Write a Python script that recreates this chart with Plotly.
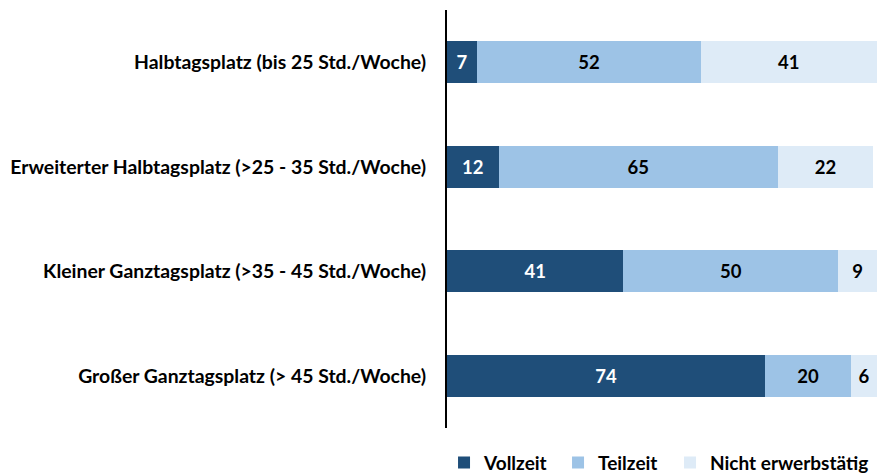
import plotly.graph_objects as go

categories = [
    "Halbtagsplatz (bis 25 Std./Woche)",
    "Erweiterter Halbtagsplatz (>25 - 35 Std./Woche)",
    "Kleiner Ganztagsplatz (>35 - 45 Std./Woche)",
    "Großer Ganztagsplatz (> 45 Std./Woche)",
]
vollzeit = [7, 12, 41, 74]
teilzeit = [52, 65, 50, 20]
nicht_erwerbstaetig = [41, 22, 9, 6]

# one legend per series so each entry can sit where the original has it
series = [
    ("Vollzeit", vollzeit, "#1F4E79", "white", "legend", 0.5063),
    ("Teilzeit", teilzeit, "#9DC3E6", "black", "legend2", 0.6363),
    ("Nicht erwerbstätig", nicht_erwerbstaetig, "#DEEBF7", "black", "legend3", 0.7640),
]

font = "Lato"

fig = go.Figure()
legends = {}
for name, vals, color, tcolor, leg, lx in series:
    fig.add_trace(go.Bar(
        y=categories, x=vals, name=name, orientation="h",
        marker=dict(color=color, line=dict(width=0)),
        text=vals, textposition="inside", insidetextanchor="middle",
        textangle=0,
        textfont=dict(family=font, size=18.5, color=tcolor, weight="bold"),
        constraintext="none", cliponaxis=False,
        legend=leg,
    ))
    legends[leg] = dict(
        orientation="h", xref="container", yref="container",
        x=lx, y=0.022, xanchor="left", yanchor="middle",
        font=dict(family=font, size=19, color="black", weight="bold"),
        bgcolor="rgba(0,0,0,0)",
    )

fig.update_layout(
    barmode="stack",
    bargap=0.6,
    width=877, height=473,
    margin=dict(l=447, r=0, t=10, b=45, autoexpand=False),
    plot_bgcolor="white", paper_bgcolor="white",
    font=dict(family=font, size=19, color="black"),
    showlegend=True,
    **legends,
)
fig.update_xaxes(range=[0, 100], visible=False, showgrid=False)
fig.update_yaxes(
    autorange="reversed", showgrid=False, automargin=False,
    showline=True, linecolor="black", linewidth=2,
    ticks="", ticklabelstandoff=15,
    tickfont=dict(family=font, size=19.4, color="black", weight="bold"),
)

# drop the default body margin so the figure fills the window exactly
fig.write_html("out.html", config={"displayModeBar": False},
               post_script="document.body.style.margin='0px';")
